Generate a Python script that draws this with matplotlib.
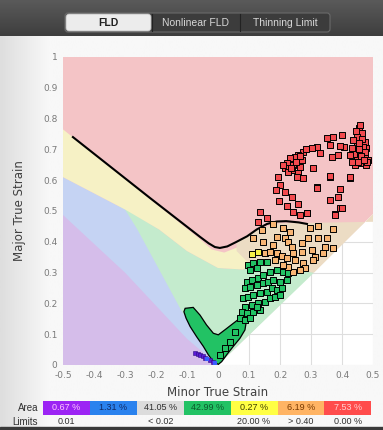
import numpy as np
import matplotlib.pyplot as plt
from matplotlib.patches import Polygon, Rectangle, FancyBboxPatch

# ---- zone boundaries (minor strain, major strain) ----
pink_zone = [(-0.5, 0.0), (-0.5, 1.0), (0.5, 1.0), (0.5, 0.49), (0.0, 0.0)]
green_zone = [(-0.32, 0.52), (-0.19, 0.44), (-0.1, 0.37), (0.0, 0.315), (0.08, 0.31),
              (0.13, 0.33), (0.2, 0.32), (0.31, 0.30), (0.0, 0.0), (-0.3, 0.3)]
blue_zone = [(-0.5, 0.0), (-0.5, 0.61), (-0.3, 0.505), (-0.26, 0.44), (-0.12, 0.18),
             (-0.02, 0.02), (0.0, 0.0)]
purple_zone = [(-0.5, 0.0), (-0.5, 0.487), (-0.3, 0.30), (-0.1, 0.085), (0.0, 0.0)]
grey_zone = [(-0.02, 0.02), (0.0, 0.0), (0.015, 0.015), (0.0, 0.05)]
yellow_zone = [(-0.5, 0.765), (-0.06, 0.41), (-0.02, 0.375), (0.02, 0.365), (0.07, 0.385),
               (0.12, 0.42), (0.13, 0.33), (0.08, 0.31), (0.0, 0.315), (-0.1, 0.37),
               (-0.19, 0.44), (-0.3, 0.505), (-0.5, 0.61)]
tan_zone = [(0.06, 0.40), (0.12, 0.44), (0.2, 0.46), (0.5, 0.465), (0.5, 0.49), (0.31, 0.30),
            (0.2, 0.315), (0.12, 0.325), (0.09, 0.34), (0.06, 0.37)]

# forming limit curve
flc_x = [-0.468, -0.219, -0.058, -0.03, -0.01, 0.006, 0.03, 0.06, 0.094, 0.125, 0.158,
         0.19, 0.22, 0.26, 0.287]
flc_y = [0.74, 0.542, 0.416, 0.395, 0.383, 0.38, 0.385, 0.40, 0.418, 0.44, 0.458,
         0.466, 0.467, 0.463, 0.458]

# ---- element strains ----
red_x = [0.456, 0.463, 0.447, 0.474, 0.449, 0.479, 0.458, 0.474, 0.447, 0.485, 0.463, 0.479,
         0.436, 0.431, 0.442, 0.469, 0.458, 0.445, 0.465, 0.455, 0.475, 0.46, 0.45, 0.48, 0.47,
         0.44, 0.455, 0.35, 0.372, 0.399, 0.406, 0.361, 0.393, 0.388, 0.367, 0.426, 0.431,
         0.318, 0.302, 0.329, 0.275, 0.259, 0.248, 0.232, 0.270, 0.243, 0.221, 0.216, 0.238,
         0.259, 0.275, 0.254, 0.227, 0.211, 0.264, 0.25, 0.235, 0.265, 0.285,
         0.307, 0.361, 0.426, 0.195, 0.200, 0.318, 0.393, 0.187, 0.216, 0.238, 0.361, 0.198,
         0.221, 0.259, 0.393, 0.243, 0.286, 0.377, 0.135, 0.158, 0.129, 0.265, 0.287, 0.377,
         0.40, 0.387, 0.319, 0.361, 0.426]
red_y = [0.768, 0.752, 0.741, 0.725, 0.714, 0.703, 0.693, 0.676, 0.671, 0.666, 0.655, 0.649,
         0.731, 0.703, 0.649, 0.709, 0.779, 0.76, 0.735, 0.72, 0.69, 0.68, 0.66, 0.66, 0.665,
         0.685, 0.70, 0.736, 0.741, 0.747, 0.709, 0.714, 0.712, 0.682, 0.676, 0.682, 0.660,
         0.709, 0.703, 0.687, 0.693, 0.682, 0.676, 0.671, 0.666, 0.649, 0.655, 0.639, 0.633,
         0.622, 0.606, 0.612, 0.628, 0.649, 0.644, 0.66, 0.64, 0.68, 0.70,
         0.639, 0.612, 0.606, 0.612, 0.584, 0.579, 0.571, 0.568, 0.563, 0.547, 0.536, 0.533,
         0.517, 0.522, 0.509, 0.498, 0.493, 0.490, 0.497, 0.477, 0.464, 0.487, 0.493, 0.487,
         0.51, 0.545, 0.575, 0.614, 0.61]

orange_x = [0.141, 0.179, 0.211, 0.232, 0.189, 0.216, 0.114, 0.146, 0.179, 0.227, 0.238,
            0.270, 0.297, 0.324, 0.372, 0.291, 0.324, 0.351, 0.345, 0.302, 0.270, 0.243,
            0.340, 0.313, 0.308, 0.372, 0.152, 0.168, 0.189, 0.205, 0.222, 0.248, 0.275,
            0.281, 0.264, 0.243, 0.227, 0.211, 0.184]
orange_y = [0.438, 0.457, 0.446, 0.433, 0.417, 0.411, 0.411, 0.400, 0.390, 0.400, 0.384,
            0.395, 0.444, 0.452, 0.442, 0.411, 0.411, 0.413, 0.384, 0.373, 0.368, 0.363,
            0.363, 0.352, 0.341, 0.379, 0.363, 0.366, 0.363, 0.355, 0.346, 0.341, 0.330,
            0.314, 0.308, 0.303, 0.319, 0.325, 0.341]

yellow_x = [0.109, 0.130]
yellow_y = [0.359, 0.368]

green_x = [0.092, 0.109, 0.130, 0.146, 0.168, 0.189, 0.211, 0.227, 0.087, 0.103, 0.125,
           0.146, 0.162, 0.178, 0.200, 0.221, 0.082, 0.098, 0.114, 0.135, 0.157, 0.173,
           0.189, 0.205, 0.087, 0.109, 0.130, 0.152, 0.168, 0.184, 0.200, 0.076, 0.092,
           0.114, 0.135, 0.071, 0.087, 0.103, 0.125, 0.055, 0.039, 0.022, 0.006, 0.098,
           0.114, 0.136, 0.157, 0.103, 0.125]
green_y = [0.271, 0.276, 0.281, 0.292, 0.303, 0.308, 0.303, 0.298, 0.249, 0.254, 0.260,
           0.265, 0.271, 0.276, 0.271, 0.276, 0.217, 0.222, 0.227, 0.233, 0.238, 0.249,
           0.244, 0.249, 0.189, 0.195, 0.200, 0.206, 0.217, 0.222, 0.227, 0.173, 0.168,
           0.173, 0.179, 0.152, 0.146, 0.152, 0.189, 0.108, 0.076, 0.054, 0.033, 0.325,
           0.330, 0.336, 0.336, 0.308, 0.314]

# dense cluster of safe elements near plane strain
blob_x = [-0.106, -0.080, -0.058, -0.037, -0.015, 0.001, 0.022, 0.049, 0.071, 0.082, 0.092,
          0.087, 0.071, 0.049, 0.028, 0.012, 0.001, -0.015, -0.031, -0.047, -0.069, -0.090,
          -0.103, -0.110]
blob_y = [0.184, 0.187, 0.162, 0.130, 0.103, 0.098, 0.114, 0.135, 0.152, 0.162, 0.146,
          0.114, 0.087, 0.060, 0.033, 0.011, 0.002, 0.011, 0.033, 0.060, 0.092, 0.125,
          0.152, 0.173]

purple_x = [-0.074, -0.066, -0.058, -0.050, -0.042, -0.026, -0.015]
purple_y = [0.038, 0.036, 0.033, 0.028, 0.024, 0.016, 0.009]
blue_x = [-0.034, -0.010]
blue_y = [0.020, 0.005]

# ---- legend table ----
area_labels = ['0.67 %', '1.31 %', '41.05 %', '42.99 %', '0.27 %', '6.19 %', '7.53 %']
area_colors = ['#9c24f4', '#2a82ee', '#dcdcdc', '#22c264', '#ffff44', '#ffb464', '#ff4c4c']
area_text = ['#ffc8ff', '#102a66', '#303030', '#0c5a2c', '#404000', '#7a3a00', '#ffd0d0']
limit_labels = ['0.01', '', '< 0.02', '', '20.00 %', '> 0.40', '0.00 %']
tabs = ['FLD', 'Nonlinear FLD', 'Thinning Limit']

W, H = 383, 430
fig = plt.figure(figsize=(W / 100, H / 100), dpi=100)

# background, header and table in pixel coordinates
bg = fig.add_axes([0, 0, 1, 1], zorder=0)
bg.set_xlim(0, W)
bg.set_ylim(H, 0)
bg.axis('off')
grad = np.linspace(0, 1, 200)[None, :]
grad = np.minimum(grad * 8, 1)
bg.imshow(grad, extent=[0, W, H, 36], cmap=plt.cm.colors.LinearSegmentedColormap.from_list(
    'bgc', ['#dedede', '#f8f8f8']), aspect='auto', vmin=0, vmax=1)
head = np.linspace(0, 1, 50)[:, None]
bg.imshow(head, extent=[0, W, 36, 0], cmap=plt.cm.colors.LinearSegmentedColormap.from_list(
    'hd', ['#5a5a5a', '#3e3e3e']), aspect='auto')
bg.add_patch(Rectangle((0, 427), W, 3, color='#3a3a3a'))

tab_edges = [65, 152, 240, 330]
bg.add_patch(FancyBboxPatch((65, 13), 265, 19, boxstyle='round,pad=0,rounding_size=3',
                            fc='#3c3c3c', ec='#6a6a6a', lw=0.8))
for i, name in enumerate(tabs):
    x0, x1 = tab_edges[i], tab_edges[i + 1]
    if i == 0:
        bg.add_patch(FancyBboxPatch((x0 + 1, 14), x1 - x0 - 2, 17,
                                    boxstyle='round,pad=0,rounding_size=3',
                                    fc='#ececec', ec='#bcbcbc', lw=0.6))
        bg.text((x0 + x1) / 2, 22.5, name, ha='center', va='center', fontsize=7.5,
                fontweight='bold', color='#202020', family='Liberation Sans')
    else:
        bg.plot([x0, x0], [14, 31], color='#222222', lw=0.8)
        bg.text((x0 + x1) / 2, 22.5, name, ha='center', va='center', fontsize=7.5,
                color='#d8d8d8', family='Liberation Sans')

cell_left, cell_w = 43, 46.9
for i in range(len(area_labels)):
    x0 = cell_left + i * cell_w
    bg.add_patch(Rectangle((x0, 401), cell_w, 13.5, fc=area_colors[i], ec='none'))
    bg.text(x0 + cell_w / 2, 408, area_labels[i], ha='center', va='center', fontsize=6.5,
            color=area_text[i], family='Liberation Sans')
    if limit_labels[i]:
        bg.text(x0 + cell_w / 2, 422, limit_labels[i], ha='center', va='center',
                fontsize=6.5, color='#303030', family='Liberation Sans')
bg.text(38, 408, 'Area', ha='right', va='center', fontsize=7, color='#303030',
        family='Liberation Sans')
bg.text(38, 422, 'Limits', ha='right', va='center', fontsize=7, color='#303030',
        family='Liberation Sans')

# ---- FLD ----
ax = fig.add_axes([63 / W, 1 - 365 / H, 310 / W, 308 / H], zorder=1)
ax.set_facecolor('white')
ax.set_xlim(-0.5, 0.5)
ax.set_ylim(0, 1)
ax.set_xticks(np.arange(-0.5, 0.51, 0.1))
ax.set_yticks(np.arange(0, 1.01, 0.1))
ax.set_xticklabels(['-0.5', '-0.4', '-0.3', '-0.2', '-0.1', '0', '0.1', '0.2', '0.3', '0.4', '0.5'])
ax.set_yticklabels(['0', '0.1', '0.2', '0.3', '0.4', '0.5', '0.6', '0.7', '0.8', '0.9', '1'])
ax.tick_params(length=0, labelsize=6.5, colors='#7a7a7a', pad=4)
for s in ax.spines.values():
    s.set_visible(False)
ax.grid(True, color='#dedede', lw=0.8)
ax.set_axisbelow(True)

zones = [(pink_zone, '#f4c4c6'), (green_zone, '#c4ebcd'), (blue_zone, '#c5d3f3'),
         (purple_zone, '#d5bdea'), (grey_zone, '#dfeee4'), (yellow_zone, '#f6f1c5'),
         (tan_zone, '#ecdcc4')]
for pts, c in zones:
    ax.add_patch(Polygon(pts, closed=True, fc=c, ec='none', zorder=1))

ax.plot(flc_x, flc_y, color='black', lw=1.5, zorder=3)

ax.fill(blob_x, blob_y, fc='#22c264', ec='black', lw=0.9, zorder=4)
mk = dict(marker='s', s=22, edgecolors='black', linewidths=0.7, zorder=5)
ax.scatter(green_x, green_y, c='#22c264', **mk)
ax.scatter(orange_x, orange_y, c='#f7b574', **mk)
ax.scatter(yellow_x, yellow_y, c='#f4f048', **mk)
ax.scatter(red_x, red_y, c='#f24a4e', **mk)
ax.scatter(purple_x, purple_y, marker='s', s=12, c='#5a1ad6', edgecolors='#2a0a80',
           linewidths=0.4, zorder=5)
ax.scatter(blue_x, blue_y, marker='s', s=10, c='#3a5cff', linewidths=0, zorder=5)

ax.set_xlabel('Minor True Strain', fontsize=8.5, color='#404040', labelpad=5)
ax.set_ylabel('Major True Strain', fontsize=8.5, color='#404040', labelpad=12)

fig.savefig('out.png', dpi=100)
